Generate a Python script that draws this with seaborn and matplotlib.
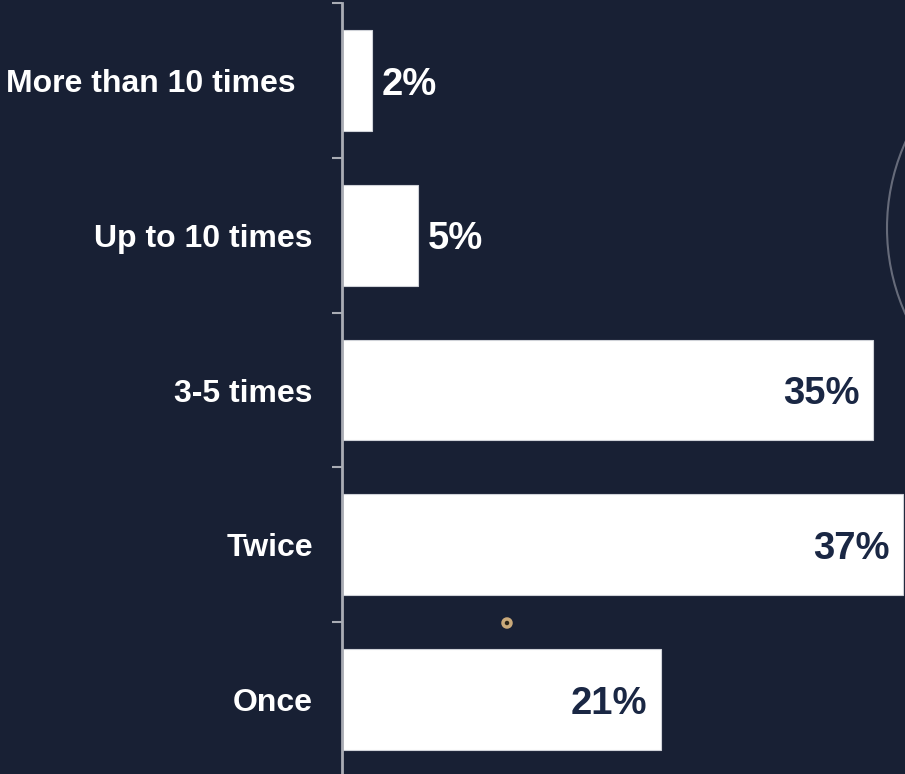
import matplotlib
matplotlib.use("Agg")
import matplotlib.pyplot as plt
import matplotlib.transforms as mtransforms
from matplotlib.patches import Circle
import seaborn as sns
import pandas as pd

categories = ["More than 10 times", "Up to 10 times", "3-5 times", "Twice", "Once"]
values = [2, 5, 35, 37, 21]
value_labels = ["2%", "5%", "35%", "37%", "21%"]

BG = "#182034"
NAVY = "#1a2744"

sns.set_theme(style="white")
plt.rcParams["font.family"] = ["Liberation Sans", "DejaVu Sans"]
plt.rcParams["font.weight"] = "bold"

W, H = 905, 774
fig = plt.figure(figsize=(W / 100, H / 100), dpi=100, facecolor=BG)
left = 342 / W
top = 1 - 3 / H
height = 774 / H
ax = fig.add_axes([left, top - height, 1 - left, height], facecolor=BG)

df = pd.DataFrame({"category": categories, "value": values})
sns.barplot(data=df, x="value", y="category", orient="h", color="white",
            width=0.65, saturation=1, edgecolor="#cfd2d8", linewidth=0.8, ax=ax)

ax.set_xlim(0, 37.1)
ax.set_ylim(len(categories) - 0.5, -0.5)
ax.set_xlabel("")
ax.set_ylabel("")
ax.set_xticks([])

for s in ["top", "right", "bottom"]:
    ax.spines[s].set_visible(False)
ax.spines["left"].set_color("#a9acb4")
ax.spines["left"].set_linewidth(2)

ax.set_yticks(range(len(categories)))
ax.set_yticklabels(categories, fontsize=23, fontweight="bold", color="white")
ax.tick_params(axis="y", which="major", length=0, pad=21)
ax.set_yticks([i - 0.5 for i in range(len(categories) + 1)], minor=True)
ax.tick_params(axis="y", which="minor", length=7, width=1.5, color="#a9acb4", left=True)

# first label sits further left in the reference
fl = ax.get_yticklabels()[0]
fl.set_transform(fl.get_transform() + mtransforms.ScaledTranslation(-17 / 100, 0, fig.dpi_scale_trans))

for i, (v, lab) in enumerate(zip(values, value_labels)):
    if v < 10:
        ax.annotate(lab, xy=(v, i), xytext=(7, -3), textcoords="offset points",
                    ha="left", va="center", fontsize=27.5, fontweight="bold", color="white")
    else:
        ax.annotate(lab, xy=(v, i), xytext=(-10, -3), textcoords="offset points",
                    ha="right", va="center", fontsize=27.5, fontweight="bold", color=NAVY)

# decorative elements visible in the reference
fig.patches.append(Circle((1097, H - 228), 210, transform=None, fill=False,
                          edgecolor="#666b7a", linewidth=1.5, zorder=0))
fig.patches.append(Circle((507, H - 623), 4, transform=None, facecolor="#2a2418",
                          edgecolor="#c9a97a", linewidth=2.5, zorder=5))

fig.savefig("out.png", dpi=100, facecolor=BG)
